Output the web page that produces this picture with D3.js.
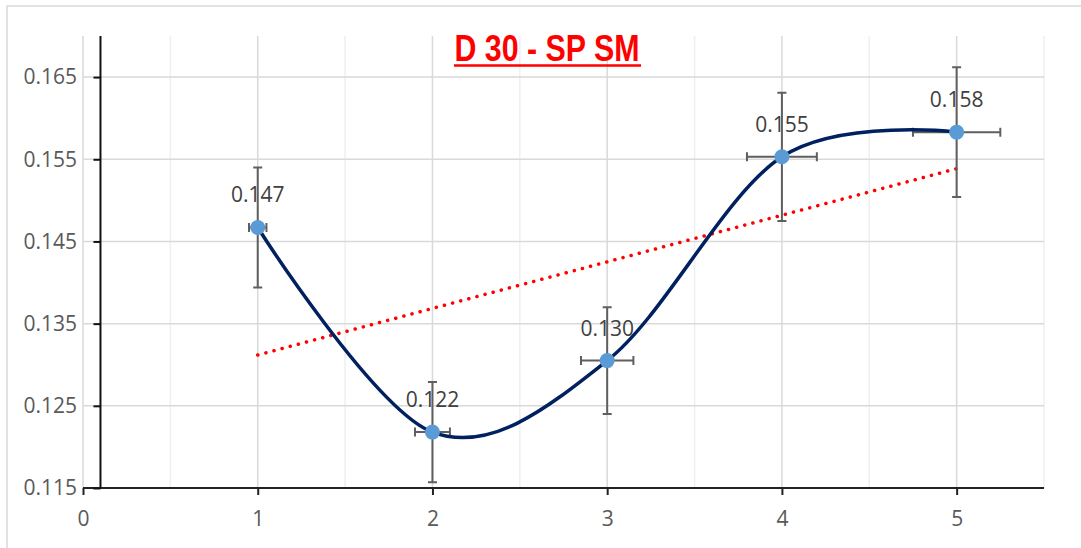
<!DOCTYPE html>
<html>
<head>
<meta charset="utf-8">
<script src="https://cdn.jsdelivr.net/npm/d3@7"></script>
<style>
  html, body { margin: 0; padding: 0; background: #fff; }
  svg { display: block; }
</style>
</head>
<body>
<svg id="chart" width="1081" height="548"></svg>
<script>
// Series: day index, measured value and its error bars
const xValues = [1, 2, 3, 4, 5];
const yValues = [0.1467, 0.1218, 0.1305, 0.1553, 0.1583];
const yErrors = [0.0073, 0.0061, 0.0065, 0.0078, 0.0079];
const xErrors = [0.05, 0.10, 0.15, 0.20, 0.25];
const pointLabels = ["0.147", "0.122", "0.130", "0.155", "0.158"];

// Axis ticks
const xTicks = [0, 1, 2, 3, 4, 5];
const xMinorGrid = [0.5, 1.5, 2.5, 3.5, 4.5, 5.5];
const yTicks = [0.115, 0.125, 0.135, 0.145, 0.155, 0.165];
const yTickLabels = ["0.115", "0.125", "0.135", "0.145", "0.155", "0.165"];

const titleText = "D 30 - SP SM";

const svg = d3.select("#chart");
const W = 1081, H = 548;
const plot = { left: 83, right: 1044, top: 36, bottom: 488 };
const labelFont = "'Open Sans', sans-serif";

const x = d3.scaleLinear().domain([0, 5.5]).range([plot.left, plot.right]);
const y = d3.scaleLinear().domain([0.115, 0.170]).range([plot.bottom, plot.top]);

// Chart frame
svg.append("rect")
  .attr("x", 7).attr("y", 6).attr("width", W + 20).attr("height", H + 20)
  .attr("fill", "#fff").attr("stroke", "#d9d9d9").attr("stroke-width", 1.5);

// Gridlines
const grid = svg.append("g");
grid.selectAll("line.minor").data(xMinorGrid).join("line")
  .attr("x1", d => x(d)).attr("x2", d => x(d))
  .attr("y1", plot.top).attr("y2", plot.bottom)
  .attr("stroke", "#efefef").attr("stroke-width", 1.5);
grid.selectAll("line.vmajor").data(xTicks).join("line")
  .attr("x1", d => x(d)).attr("x2", d => x(d))
  .attr("y1", plot.top).attr("y2", plot.bottom)
  .attr("stroke", "#d9d9d9").attr("stroke-width", 1.5);
grid.selectAll("line.hmajor").data(yTicks).join("line")
  .attr("x1", plot.left).attr("x2", plot.right)
  .attr("y1", d => y(d)).attr("y2", d => y(d))
  .attr("stroke", "#d9d9d9").attr("stroke-width", 1.5);

// X axis along the bottom
const xAxis = d3.axisBottom(x).tickValues(xTicks).tickSize(7).tickPadding(16)
  .tickFormat(d3.format("d"));
const gx = svg.append("g").attr("transform", `translate(0,${plot.bottom})`).call(xAxis);
gx.select(".domain").attr("stroke", "#222").attr("stroke-width", 2)
  .attr("d", `M${plot.left},0H${plot.right}`);
gx.selectAll(".tick line").attr("stroke", "#222").attr("stroke-width", 2);
gx.selectAll(".tick text").attr("fill", "#595959")
  .style("font-family", labelFont).style("font-size", "21px");

// Y axis crossing at x = 0.1
const yAxisX = x(0.1);
const yAxis = d3.axisLeft(y).tickValues(yTicks).tickSize(7).tickPadding(16)
  .tickFormat((d, i) => yTickLabels[i]);
const gy = svg.append("g").attr("transform", `translate(${yAxisX},0)`).call(yAxis);
gy.select(".domain").attr("stroke", "#111").attr("stroke-width", 2)
  .attr("d", `M0,${plot.top}V${plot.bottom}`);
gy.selectAll(".tick line").attr("stroke", "#111").attr("stroke-width", 2);
gy.selectAll(".tick text").attr("fill", "#595959")
  .attr("x", plot.left - 6 - yAxisX)
  .style("font-family", labelFont).style("font-size", "21px");

const points = xValues.map((d, i) => ({
  x: d, y: yValues[i], ex: xErrors[i], ey: yErrors[i], label: pointLabels[i]
}));

// Linear trendline (least squares over the series)
const mx = d3.mean(xValues), my = d3.mean(yValues);
const slope = d3.sum(points, p => (p.x - mx) * (p.y - my)) / d3.sum(points, p => (p.x - mx) ** 2);
const intercept = my - slope * mx;
const x0 = d3.min(xValues), x1 = d3.max(xValues);
svg.append("line")
  .attr("x1", x(x0)).attr("y1", y(intercept + slope * x0))
  .attr("x2", x(x1)).attr("y2", y(intercept + slope * x1))
  .attr("stroke", "#ff0000").attr("stroke-width", 3.5)
  .attr("stroke-linecap", "round").attr("stroke-dasharray", "0.1 8.3");

// Error bars
const eb = svg.append("g").attr("stroke", "#5f5f5f").attr("stroke-width", 2).attr("fill", "none");
const cap = 4.5;
points.forEach(p => {
  const cx = x(p.x), cy = y(p.y);
  const yt = y(p.y + p.ey), yb = y(p.y - p.ey);
  const xl = x(p.x - p.ex), xr = x(p.x + p.ex);
  eb.append("path").attr("d",
    `M${cx},${yt}V${yb}M${cx - cap},${yt}H${cx + cap}M${cx - cap},${yb}H${cx + cap}` +
    `M${xl},${cy}H${xr}M${xl},${cy - cap}V${cy + cap}M${xr},${cy - cap}V${cy + cap}`);
});

// Smoothed series line
const line = d3.line().x(d => x(d.x)).y(d => y(d.y)).curve(d3.curveCardinal.tension(0));
svg.append("path").datum(points)
  .attr("d", line).attr("fill", "none")
  .attr("stroke", "#002060").attr("stroke-width", 3.5);

// Markers
svg.append("g").selectAll("circle").data(points).join("circle")
  .attr("cx", d => x(d.x)).attr("cy", d => y(d.y)).attr("r", 7.5)
  .attr("fill", "#5b9bd5");

// Value labels
svg.append("g").selectAll("text").data(points).join("text")
  .attr("x", d => x(d.x)).attr("y", d => y(d.y) - 25)
  .attr("text-anchor", "middle").attr("fill", "#404040")
  .style("font-family", labelFont).style("font-size", "21px")
  .text(d => d.label);

// Title
svg.append("text")
  .attr("x", 547).attr("y", 61)
  .attr("text-anchor", "middle").attr("fill", "#ff0000")
  .attr("textLength", 185).attr("lengthAdjust", "spacingAndGlyphs")
  .style("font-family", "'Liberation Sans Narrow', 'Liberation Sans', Arial, sans-serif")
  .style("font-weight", "bold").style("font-size", "37px")
  .text(titleText);
svg.append("line")
  .attr("x1", 547 - 93).attr("x2", 547 + 94)
  .attr("y1", 65.5).attr("y2", 65.5)
  .attr("stroke", "#ff0000").attr("stroke-width", 2.5);
</script>
</body>
</html>
